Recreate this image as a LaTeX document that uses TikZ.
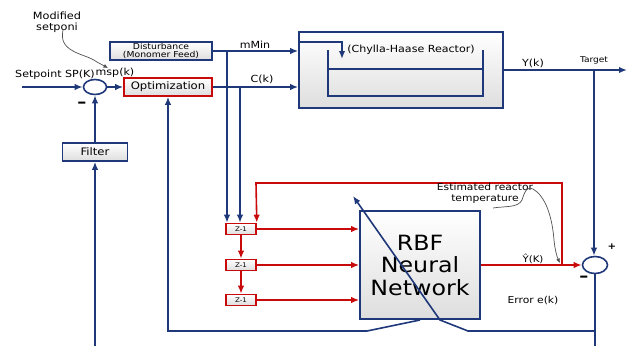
\documentclass[tikz,border=0pt]{standalone}
\usepackage{fontspec}
\setmainfont{DejaVu Sans}[FakeStretch=1.13]
\usetikzlibrary{arrows.meta,shapes.geometric,calc}
\definecolor{navy}{RGB}{31,56,122}
\definecolor{dred}{RGB}{200,10,10}
\definecolor{anno}{RGB}{80,80,80}
\begin{document}
\begin{tikzpicture}[x=1pt,y=-1pt,
  bbox/.style={draw=navy,line width=1.6pt,top color=white,bottom color=black!13,inner sep=0pt},
  rbox/.style={draw=dred,line width=1.6pt,top color=white,bottom color=black!13,inner sep=0pt},
  sumnode/.style={draw=navy,line width=1.6pt,fill=white,ellipse,inner sep=0pt},
  bline/.style={draw=navy,line width=1.6pt},
  rline/.style={draw=dred,line width=1.6pt},
  barr/.style={bline,-{Latex[length=8pt,width=6.5pt]}},
  rarr/.style={rline,-{Latex[length=8pt,width=6.5pt]}},
  aarr/.style={draw=anno,line width=0.7pt,-{Latex[length=4.5pt,width=4pt]}},
  lbl/.style={inner sep=0pt,font=\fontsize{9.8}{10}\selectfont},
  slbl/.style={inner sep=0pt,font=\fontsize{8}{9}\selectfont}]
\useasboundingbox (0,0) rectangle (627,346);

% blocks
\node[bbox,minimum width=102pt,minimum height=18pt,align=center,font=\fontsize{8.2}{8.8}\selectfont] (dist) at (161,51) {Disturbance\\(Monomer Feed)};
\node[rbox,minimum width=88pt,minimum height=18pt,font=\fontsize{10.3}{11}\selectfont] (opt) at (168,87) {Optimization};
\node[bbox,minimum width=65pt,minimum height=18pt,font=\fontsize{10.3}{11}\selectfont] (filt) at (95,152) {Filter};
\node[bbox,minimum width=204pt,minimum height=76pt] (reac) at (401,70) {};
\node[bbox,minimum width=120pt,minimum height=108pt,align=center,font=\fontsize{21}{22.5}\selectfont] (rbf) at (420,265) {RBF\\Neural\\Network};
\node[rbox,minimum width=30pt,minimum height=11pt,font=\fontsize{6.3}{6.3}\selectfont] (z1) at (241,229) {Z-1};
\node[rbox,minimum width=30pt,minimum height=11pt,font=\fontsize{6.3}{6.3}\selectfont] (z2) at (241,265) {Z-1};
\node[rbox,minimum width=30pt,minimum height=11pt,font=\fontsize{6.3}{6.3}\selectfont] (z3) at (241,300) {Z-1};
\node[sumnode,minimum width=23pt,minimum height=15pt] (s1) at (95,87) {};
\node[sumnode,minimum width=25pt,minimum height=17pt] (s2) at (595,265) {};

% reactor internals
\draw[bline] (328,50) -- (328,96) -- (483,96) -- (483,50);
\draw[bline] (328,69) -- (483,69);
\coordinate (rin) at (299,42);
\draw[barr] (rin) -- (342,42) -- (342,59);
\node[lbl] (rname) at (411,50) {(Chylla-Haase Reactor)};

% setpoint path
\coordinate (spin) at (22,87);
\draw[barr] (spin) -- (s1.west);
\draw[barr] (s1.east) -- (opt.west);
\draw[barr] (filt.north) -- (s1.south);
\coordinate (fbot) at (95,346);
\draw[barr] (fbot) -- (filt.south);

% plant inputs
\draw[barr] (dist.east) -- (dist.east -| reac.west);
\draw[barr] (opt.east) -- (opt.east -| reac.west);
\coordinate (m1) at (227,51);
\coordinate (c1) at (240,87);
\draw[barr] (m1) -- (m1 |- z1.north);
\draw[barr] (c1) -- (c1 |- z1.north);

% output
\coordinate (yout) at (627,70);
\coordinate (tgt) at (594,70);
\draw[barr] (reac.east) -- (yout);
\draw[barr] (tgt) -- (tgt |- s2.north);

% delay line
\draw[rarr] (z1.east) -- (z1.east -| rbf.west);
\draw[rarr] (z2.east) -- (z2.east -| rbf.west);
\draw[rarr] (z3.east) -- (z3.east -| rbf.west);
\draw[rarr] (z1.south) -- (z2.north);
\draw[rarr] (z2.south) -- (z3.north);
\coordinate (fbk) at (562,265);
\draw[rarr] (fbk) -- (562,183) -- (256,183) -- (z1.north east);
\draw[rarr] (rbf.east) -- (s2.west);

% error paths
\coordinate (ebot) at (595,346);
\draw[bline] (s2.south) -- (ebot);
\coordinate (adapt) at (353,196);
\draw[barr] (595,331) -- (468,331) -- (440,320) -- (adapt);
\draw[barr] (420,320) -- (367,331) -- (168,331) -- (opt.south);

% labels
\node[lbl] (lsp) at (55,75) {Setpoint SP(K)};
\node[lbl] (lmsp) at (115,73) {msp(k)};
\node[lbl,align=center,font=\fontsize{10}{11}\selectfont] (lmod) at (57,22) {Modified\\setponi};
\node[lbl] (lmmin) at (255,45) {mMin};
\node[lbl] (lck) at (262,79) {C(k)};
\node[lbl] (lyk) at (533,63) {Y(k)};
\node[slbl] (ltgt) at (594,60) {Target};
\node[lbl,align=center,font=\fontsize{9.5}{11}\selectfont] (lest) at (485,193.5) {Estimated reactor\\temperature};
\node[lbl,font=\fontsize{9}{9}\selectfont] (lyhat) at (533,259) {Ŷ(K)};
\node[lbl,font=\fontsize{9.5}{10}\selectfont] (lerr) at (533,301) {Error e(k)};
\node[lbl,font=\bfseries\fontsize{9}{9}\selectfont] (lp) at (612,247) {+};
\node[lbl,font=\bfseries\fontsize{16}{16}\selectfont] (lm2) at (584,279) {–};
\node[lbl,font=\bfseries\fontsize{16}{16}\selectfont] (lm1) at (82,105) {–};

% annotation curves
\draw[aarr] (63,30) .. controls (61,40) and (64,46) .. (73,51) .. controls (80,55) and (90,57) .. (97,62) -- (108,68);
\draw[aarr] (493,208) .. controls (505,206) and (518,208) .. (522,200) .. controls (525,190) and (528,186) .. (533,189) .. controls (545,196) and (552,215) .. (554,240) .. controls (555,250) and (557,257) .. (560,263);
\end{tikzpicture}
\end{document}
